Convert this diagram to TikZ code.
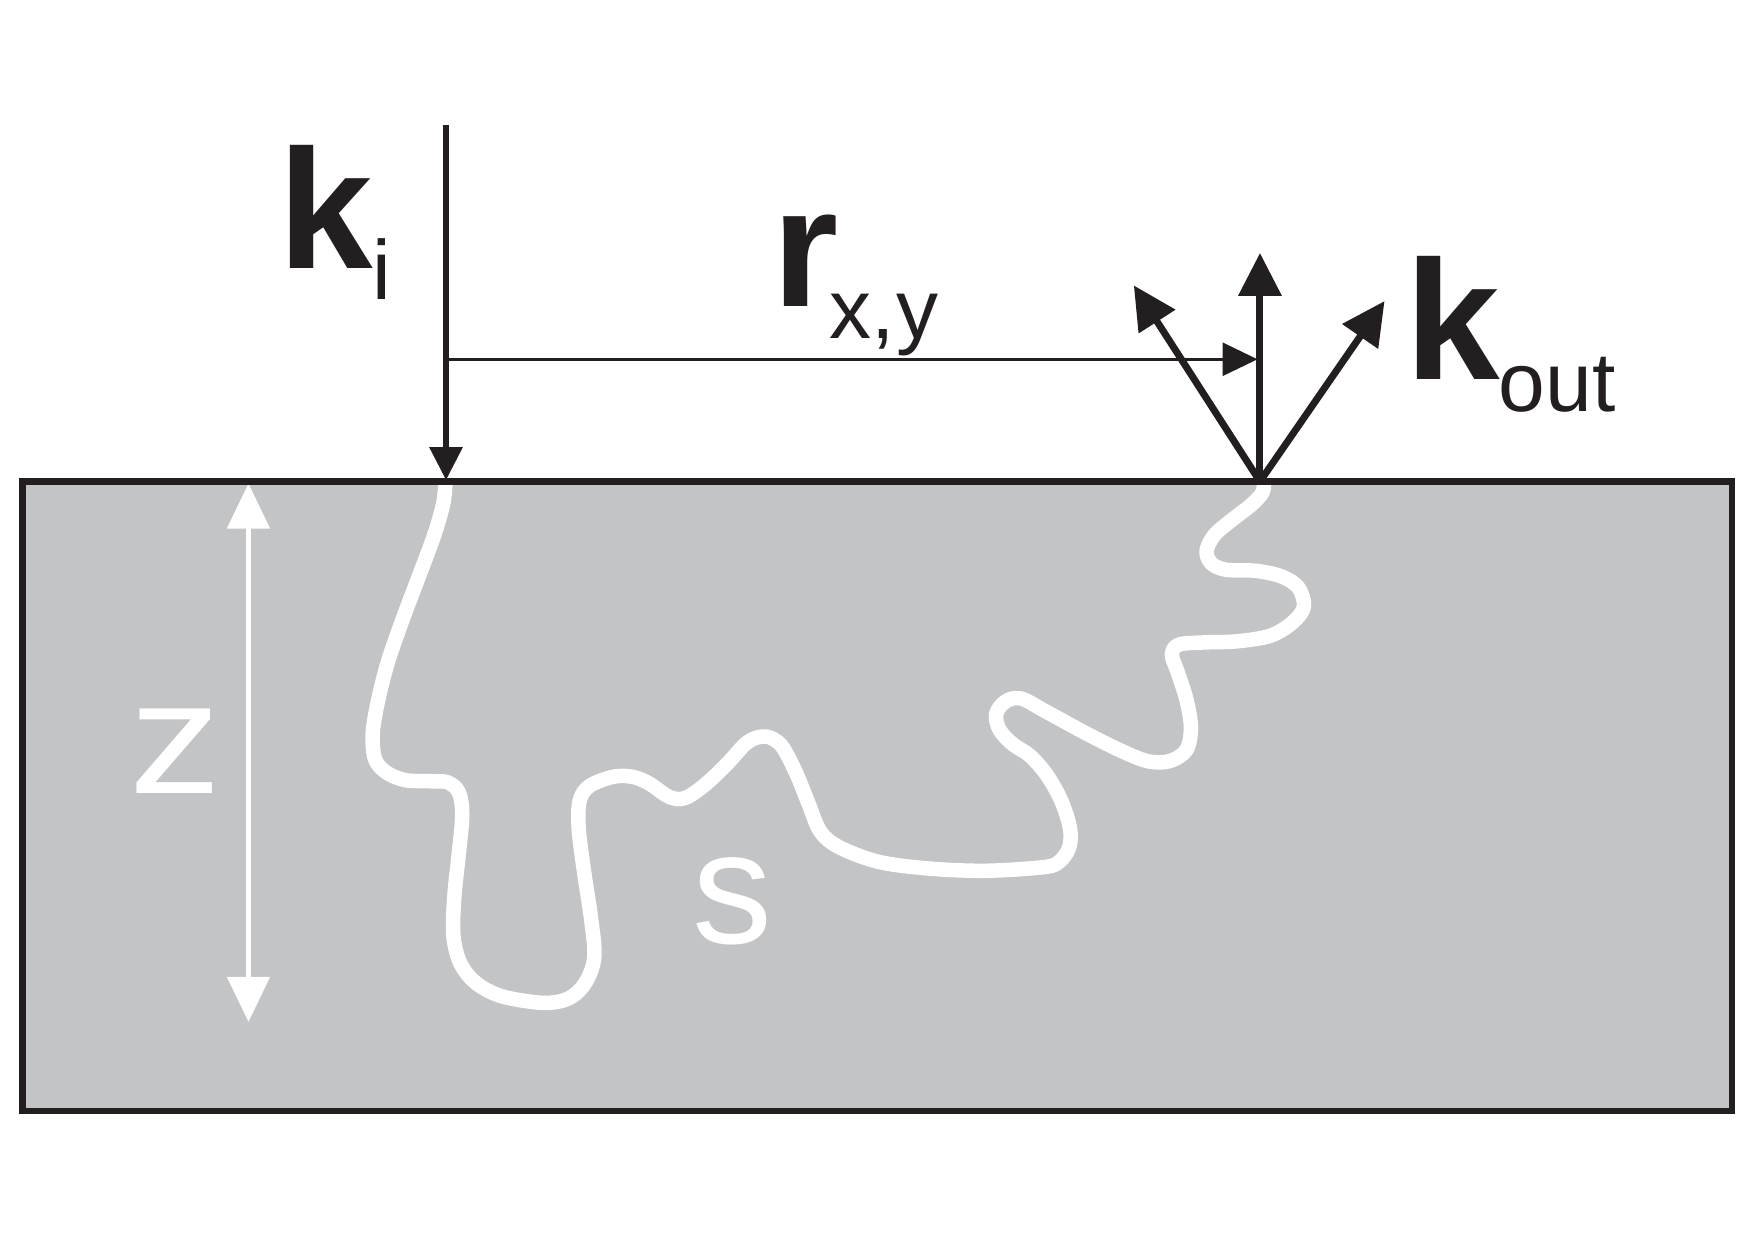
\documentclass[tikz,border=0pt]{standalone}
\usepackage{fontspec}
\setmainfont{Liberation Sans}
\usetikzlibrary{arrows.meta}
\definecolor{ink}{HTML}{231F20}
\definecolor{slab}{HTML}{C3C4C6}
\begin{document}
\begin{tikzpicture}[x=1.1193pt,y=-1.1193pt,
  lbl/.style={anchor=base west, inner sep=0pt, outer sep=0pt, text=ink},
  bigtxt/.style={lbl, font=\fontsize{170}{170}\selectfont\bfseries},
  subtxt/.style={lbl, font=\fontsize{84}{84}\selectfont},
  slabtxt/.style={lbl, text=white, font=\fontsize{160}{160}\selectfont},
  beam/.style={draw=ink, line width=6pt, -{Triangle[length=33pt,width=32pt]}},
  outbeam/.style={draw=ink, line width=7pt, -{Triangle[length=43pt,width=42pt]}},
  rline/.style={draw=ink, line width=3pt, -{Triangle[length=35pt,width=33pt]}},
  depth/.style={draw=white, line width=5pt, {Triangle[length=45pt,width=42pt]}-{Triangle[length=45pt,width=42pt]}},
  walk/.style={draw=white, line width=14.5pt, line cap=butt, line join=round},
  slabbox/.style={draw=ink, line width=6.5pt}
]
\useasboundingbox (0,0) rectangle (1568,1108);
% coordinates
\coordinate (inTop) at (398.5,111.7);
\coordinate (inHit) at (398.5,429);
\coordinate (rStart) at (398.5,321);
\coordinate (rEnd) at (1123.5,321);
\coordinate (outBase) at (1125.7,430.2);
\coordinate (upTip) at (1125.7,226);
\coordinate (leftTip) at (1013,255);
\coordinate (rightTip) at (1237,269);
\coordinate (zTop) at (222,432);
\coordinate (zBot) at (222,913);
\coordinate (slabNW) at (20.1,430.2);
\coordinate (slabSE) at (1547.4,992.6);
% slab
\path[fill=slab] (slabNW) rectangle (slabSE);
% random walk
\draw[walk] plot[smooth, tension=0.55] coordinates {
(398,431) (396,450) (388,478) (375,513) (361,550) (347,590) (338,625) (333,655)
(335,678) (345,690) (362,697) (385,698) (400,699) (410,708) (413,728) (410,762)
(406,800) (405,835) (411,860) (425,878) (448,890) (485,896) (508,892) (523,878)
(531,855) (528,820) (522,780) (517,740) (518,715) (527,702) (548,694) (565,694)
(580,700) (598,712) (612,713) (630,701) (650,682) (668,663) (684,658) (698,666)
(711,690) (722,717) (733,743) (750,757) (785,770) (830,776) (880,778) (930,775)
(945,771) (955,758) (956,740) (948,715) (935,692) (920,675) (905,665) (893,652)
(890,638) (898,627) (912,624) (935,636) (970,655) (1000,670) (1025,680) (1045,680)
(1060,670) (1064,650) (1060,625) (1052,600) (1047,585) (1053,576) (1075,574)
(1105,573) (1135,568) (1155,556) (1165,542) (1160,525) (1145,515) (1122,510)
(1095,509) (1082,503) (1078,492) (1085,478) (1100,465) (1118,451) (1128,440) (1129,431)};
% depth arrow
\draw[depth] (zTop) -- (zBot);
% slab border
\draw[slabbox] (slabNW) rectangle (slabSE);
% beams
\draw[beam] (inTop) -- (inHit);
\draw[rline] (rStart) -- (rEnd);
\draw[outbeam] (outBase) -- (upTip);
\draw[outbeam] (outBase) -- (leftTip);
\draw[outbeam] (outBase) -- (rightTip);
% labels
\node[bigtxt] (kik) at (249,239.5) {k};
\node[subtxt] (kii) at (333,268) {i};
\node[bigtxt] (rr) at (690,274) {r};
\node[subtxt] (rxy) at (741,302) {x,\kern2pt y};
\node[bigtxt] (kok) at (1256,339.5) {k};
\node[subtxt] (koo) at (1339,368) {out};
\node[slabtxt, xscale=1.15] (zz) at (115.5,708.5) {z};
\node[slabtxt] (ss) at (619,843) {s};
\end{tikzpicture}
\end{document}
